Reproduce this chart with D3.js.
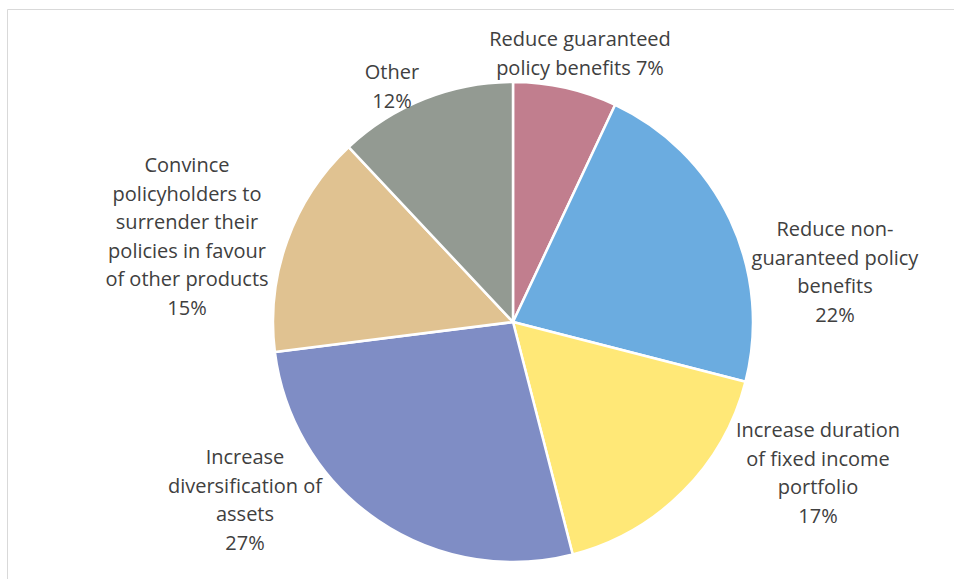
<!DOCTYPE html>
<html>
<head>
<meta charset="utf-8">
<script src="https://cdn.jsdelivr.net/npm/d3@7"></script>
<style>
  body { margin: 0; background: #fff; }
  text { font-family: "Open Sans", sans-serif; fill: #404040; }
</style>
</head>
<body>
<div id="vis"></div>
<script>
// slices, clockwise from 12 o'clock
var categories = [
  ["Reduce guaranteed", "policy benefits"],
  ["Reduce non-", "guaranteed policy", "benefits"],
  ["Increase duration", "of fixed income", "portfolio"],
  ["Increase", "diversification of", "assets"],
  ["Convince", "policyholders to", "surrender their", "policies in favour", "of other products"],
  ["Other"]
];
var values = [7, 22, 17, 27, 15, 12];
var colors = ["#C17E8E", "#6BACE0", "#FFE877", "#7F8DC5", "#E0C291", "#939A92"];

// label anchor (centre of first line) - layout only
var labelAt = [[580, 39], [835, 229], [818, 430], [245, 457], [187, 165], [392, 72]];

var W = 954, H = 579;
var cx = 513, cy = 322, r = 240;
var lineH = 28.6;

svg = d3.select('#vis').append('svg')
  .attr('width', W)
  .attr('height', H);

// chart frame (only top/left edges show)
svg.append('path')
  .attr('d', 'M7.5,' + H + 'V9.5H' + W)
  .attr('fill', 'none')
  .attr('stroke', '#d9d9d9')
  .attr('stroke-width', 1);

var pie = d3.pie().sort(null).value(function(d) { return d; });
var arc = d3.arc().innerRadius(0).outerRadius(r);

var g = svg.append('g').attr('transform', 'translate(' + cx + ',' + cy + ')');

g.selectAll('path.slice')
  .data(pie(values))
  .enter().append('path')
  .attr('class', 'slice')
  .attr('d', arc)
  .attr('fill', function(d, i) { return colors[i]; })
  .attr('stroke', '#fff')
  .attr('stroke-width', 2.5)
  .attr('stroke-linejoin', 'round');

// labels: name lines then percent (first slice keeps % on last line)
categories.forEach(function(lines, i) {
  var pct = values[i] + '%';
  var all = lines.slice();
  if (i === 0) all[all.length - 1] += ' ' + pct;
  else all.push(pct);
  var t = svg.append('text')
    .attr('text-anchor', 'middle')
    .attr('font-size', 20)
    .attr('x', labelAt[i][0])
    .attr('y', labelAt[i][1]);
  all.forEach(function(s, k) {
    t.append('tspan')
      .attr('x', labelAt[i][0])
      .attr('y', labelAt[i][1] + k * lineH)
      .attr('dy', '0.35em')
      .text(s);
  });
});
</script>
</body>
</html>
